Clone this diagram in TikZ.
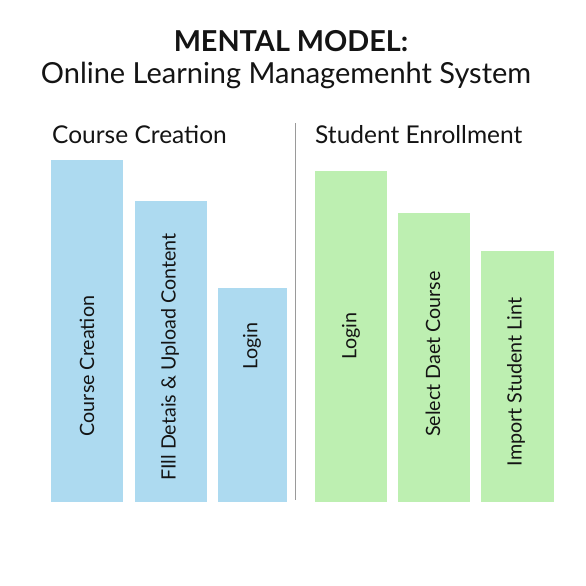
\documentclass[tikz,border=0pt]{standalone}
\usepackage{fontspec}
\setmainfont{Lato}
\usetikzlibrary{positioning}
\definecolor{cBlue}{HTML}{ADDAF0}
\definecolor{cGreen}{HTML}{BDEFB1}
\definecolor{cRule}{HTML}{9A9A9A}
\definecolor{cInk}{HTML}{141414}

\begin{document}
\begin{tikzpicture}[
    x=1pt, y=-1pt,
    every node/.style={text=cInk},
    bar/.style={
        rectangle, draw=none, inner sep=0pt, minimum width=72pt,
        anchor=south west
    },
    bluebar/.style={bar, fill=cBlue},
    greenbar/.style={bar, fill=cGreen},
    barlbl/.style={rotate=90, inner sep=0pt, font=\fontsize{19.7}{23}\selectfont},
    heading/.style={anchor=west, inner sep=0pt, font=\fontsize{24.5}{28}\selectfont},
]

\useasboundingbox[fill=white] (0,0) rectangle (586,586);

% =====================================================
% Title
% =====================================================

\node[font=\fontsize{28.8}{33}\selectfont\bfseries] (title) at (291,41) {MENTAL MODEL:};
\node[font=\fontsize{29}{34}\selectfont] (subtitle) at (286,75) {Online Learning Managemenht System};

% =====================================================
% Course creation (left)
% =====================================================

\node[heading] (hcourse) at (52,135) {Course Creation};

\node[bluebar, minimum height=342pt] (c1) at (51,502) {};
\node[bluebar, minimum height=301pt, right=11pt of c1.south east, anchor=south west] (c2) {};
\node[bluebar, minimum height=214pt, minimum width=69pt, right=11pt of c2.south east, anchor=south west] (c3) {};

\node[barlbl] (lc1) at (87,366) {Course Creation};
\node[barlbl] (lc2) at (170,357) {FIll Detais \& Upload Content};
\node[barlbl] (lc3) at (252,346) {Login};

% divider
\coordinate (divtop) at (295,123);
\coordinate (divbot) at (295,500);
\draw[cRule, line width=0.8pt] (divtop) -- (divbot);

% =====================================================
% Student enrollment (right)
% =====================================================

\node[heading] (henroll) at (315,135) {Student Enrollment};

\node[greenbar, minimum height=331pt] (g1) at (315,502) {};
\node[greenbar, minimum height=289pt, right=10pt of g1.south east, anchor=south west] (g2) {};
\node[greenbar, minimum height=251pt, minimum width=73pt, right=11pt of g2.south east, anchor=south west] (g3) {};

\node[barlbl] (lg1) at (351,336) {Login};
\node[barlbl] (lg2) at (433,354) {Select Daet Course};
\node[barlbl] (lg3) at (516,382) {Import Student Lint};

\end{tikzpicture}
\end{document}
